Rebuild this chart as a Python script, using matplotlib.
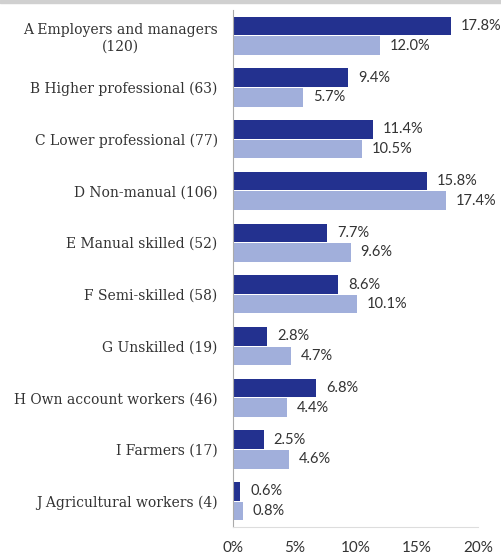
import matplotlib
matplotlib.use("Agg")
import numpy as np
import matplotlib.pyplot as plt
from matplotlib.patches import Rectangle

categories = [
    "A Employers and managers\n(120)",
    "B Higher professional (63)",
    "C Lower professional (77)",
    "D Non-manual (106)",
    "E Manual skilled (52)",
    "F Semi-skilled (58)",
    "G Unskilled (19)",
    "H Own account workers (46)",
    "I Farmers (17)",
    "J Agricultural workers (4)",
]
series_dark = [17.8, 9.4, 11.4, 15.8, 7.7, 8.6, 2.8, 6.8, 2.5, 0.6]
series_light = [12.0, 5.7, 10.5, 17.4, 9.6, 10.1, 4.7, 4.4, 4.6, 0.8]
xticks = [0, 5, 10, 15, 20]

DARK = "#23318f"
LIGHT = "#a1afdb"
TEXT = "#333333"

W, H = 501, 555
fig = plt.figure(figsize=(W / 100, H / 100), dpi=100)
ax = fig.add_axes([233 / W, 1 - 527 / H, (478 - 233) / W, (527 - 10) / H])

y = np.arange(len(categories))
bh = 0.36
off = 0.19
ax.barh(y - off, series_dark, height=bh, color=DARK)
ax.barh(y + off, series_light, height=bh, color=LIGHT)

for yi, v in zip(y - off, series_dark):
    ax.text(v + 0.8, yi, f"{v:.1f}%", va="center", ha="left",
            fontsize=10.5, family="Lato", color=TEXT)
for yi, v in zip(y + off, series_light):
    ax.text(v + 0.8, yi, f"{v:.1f}%", va="center", ha="left",
            fontsize=10.5, family="Lato", color=TEXT)

ax.set_ylim(len(categories) - 0.5, -0.5)
ax.set_xlim(0, 20)
ax.set_xticks(xticks)
ax.set_xticklabels([f"{t}%" for t in xticks], family="Lato", fontsize=11, color=TEXT)
ax.set_yticks(y)
ax.set_yticklabels(categories, family="DejaVu Serif", fontsize=10, color=TEXT,
                   multialignment="center")
ax.tick_params(axis="both", length=0)
ax.tick_params(axis="y", pad=11)
ax.tick_params(axis="x", pad=10)

for s in ["top", "right"]:
    ax.spines[s].set_visible(False)
ax.spines["left"].set_color("#aaaaaa")
ax.spines["bottom"].set_color("#dddddd")

# grey band across the top edge
fig.patches.append(Rectangle((0, 1 - 3 / H), 1, 3 / H, transform=fig.transFigure,
                             color="#d0d0d0", zorder=0))

fig.savefig("out.png", dpi=100)
